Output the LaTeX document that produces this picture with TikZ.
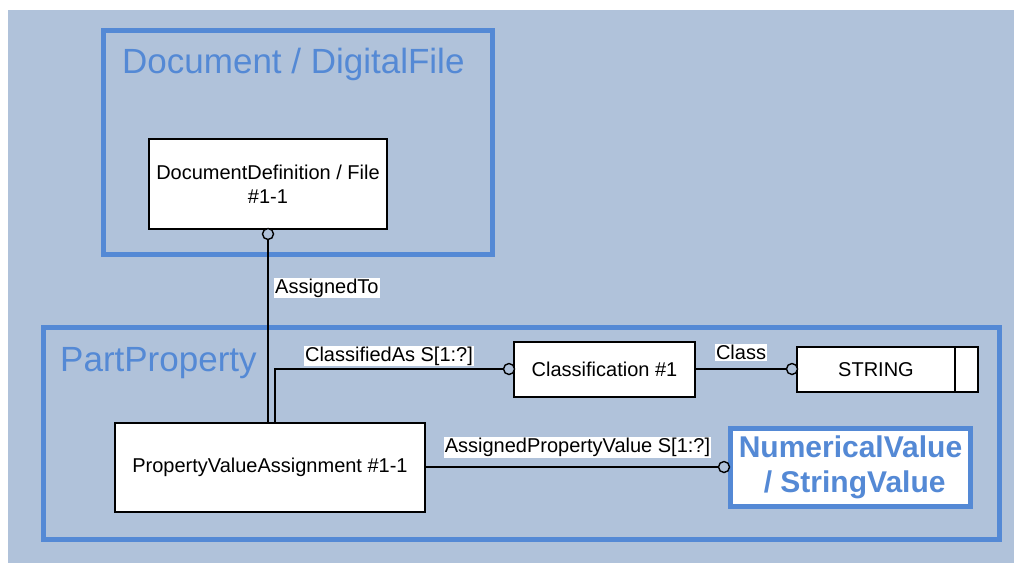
\documentclass[tikz,border=0pt]{standalone}
\usepackage{fontspec}
\setmainfont{Liberation Sans}
\definecolor{bgc}{RGB}{176,194,218}
\definecolor{frame}{RGB}{84,137,213}
\tikzset{
  x=1pt, y=-1pt,
  ent/.style={draw=black, line width=1.4pt, fill=white, inner sep=0pt, align=center, font=\fontsize{20}{24}\selectfont},
  lbl/.style={fill=white, inner sep=1pt, font=\fontsize{20}{22}\selectfont},
  conn/.style={line width=1.4pt, draw=black},
  ocirc/.style={circle, draw=black, line width=1.4pt, fill=bgc, minimum size=11pt, inner sep=0pt},
  grp/.style={draw=frame, line width=5pt},
  grptitle/.style={text=frame, font=\fontsize{35}{40}\selectfont, inner sep=0pt, anchor=base west},
}
\begin{document}
\begin{tikzpicture}
\useasboundingbox (0,0) rectangle (1014,563);
\fill[bgc] (8,10) rectangle (1014,563);
% group frames
\draw[grp] (103.5,30.5) rectangle (492.5,254.5);
\node[grptitle] (tdoc) at (122,73) {Document / DigitalFile};
\draw[grp] (43.5,327.5) rectangle (999.5,539.5);
\node[grptitle] (tpart) at (60,371) {PartProperty};
% entities
\node[ent, minimum width=238pt, minimum height=90pt] (doc) at (268,184) {DocumentDefinition / File\\\#1-1};
\node[ent, minimum width=310pt, minimum height=89pt] (pva) at (270,467.5) {PropertyValueAssignment \#1-1};
\node[ent, minimum width=181pt, minimum height=55pt] (cls) at (604.5,369.5) {Classification \#1};
\node[ent, minimum width=181pt, minimum height=45pt] (str) at (887.5,369.5) {};
\node[font=\fontsize{20}{24}\selectfont, inner sep=0pt] (strt) at (876,369.5) {STRING};
\draw[line width=1.4pt] (str.north west -| 955,0) -- (str.south west -| 955,0);
\node[draw=frame, line width=5pt, fill=white, minimum width=240pt, minimum height=78pt, inner sep=0pt, align=center, text=frame, font=\fontsize{30}{35}\selectfont\bfseries] (nv) at (850.5,467.5) {NumericalValue\\\ / StringValue};
% connectors
\node[ocirc] (c1) at (268,234) {};
\draw[conn] (c1.south) -- (c1.south |- pva.north);
\node[lbl, anchor=west] (l1) at (274,288) {AssignedTo};
\node[ocirc] (c2) at (509,369) {};
\draw[conn] (pva.north -| 275,0) |- (c2.west);
\node[lbl] (l2) at (389,356) {ClassifiedAs S[1:?]};
\node[ocirc] (c3) at (792,369) {};
\draw[conn] (cls.east |- c3) -- (c3.west);
\node[lbl] (l3) at (741,352.5) {Class};
\node[ocirc] (c4) at (724,467) {};
\draw[conn] (pva.east |- c4) -- (c4.west);
\node[lbl] (l4) at (577.5,447.5) {AssignedPropertyValue S[1:?]};
\end{tikzpicture}
\end{document}
